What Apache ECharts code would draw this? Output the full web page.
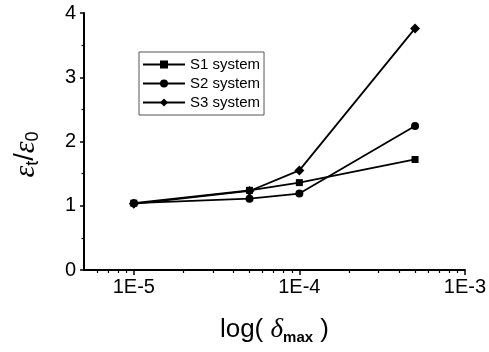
<!DOCTYPE html>
<html><head><meta charset="utf-8">
<script src="https://cdn.jsdelivr.net/npm/echarts@6/dist/echarts.min.js"></script>
<style>html,body{margin:0;padding:0;background:#fff}#c{width:489px;height:352px}</style>
</head><body><div id="c"></div>
<script>
const xValues = [1e-5, 5e-5, 1e-4, 5e-4];
const s1 = [1.04, 1.24, 1.36, 1.72];
const s2 = [1.04, 1.11, 1.19, 2.24];
const s3 = [1.03, 1.23, 1.55, 3.76];
const seriesNames = ['S1 system', 'S2 system', 'S3 system'];
const seriesSymbols = ['rect', 'circle', 'diamond'];
const xMajorTicks = [1e-5, 1e-4, 1e-3];
const xMin = 5e-6, xMax = 1e-3;
const yMin = 0, yMax = 4, yStep = 1;

const xMinorTicks = [];
for (let d = -6; d <= -4; d++) {
  for (let m = 2; m <= 9; m++) {
    const v = m * Math.pow(10, d);
    if (v >= xMin * 0.999 && v <= xMax * 1.001) xMinorTicks.push(v);
  }
}

const font = 'Liberation Sans, Arial, sans-serif';
const serif = 'Liberation Serif, Times New Roman, serif';
const symSizes = [7, 8, 10];
const allData = [s1, s2, s3];

const chart = echarts.init(document.getElementById('c'), null, {renderer: 'canvas'});
const option = {
  backgroundColor: '#fff',
  animation: false,
  grid: {left: 84, right: 24, top: 13, bottom: 82},
  legend: {
    orient: 'vertical',
    left: 139, top: 52,
    padding: [5, 4, 5, 3],
    borderColor: '#555', borderWidth: 1,
    itemWidth: 42, itemHeight: 10, itemGap: 4,
    textStyle: {fontFamily: font, fontSize: 15, color: '#000'},
    data: seriesNames
  },
  xAxis: [{
    type: 'log', logBase: 10, min: xMin, max: xMax,
    splitLine: {show: false},
    axisLine: {lineStyle: {color: '#000', width: 2}},
    axisTick: {customValues: xMajorTicks, length: 5, lineStyle: {color: '#000', width: 1.5}},
    axisLabel: {
      customValues: xMajorTicks, margin: 7,
      fontFamily: font, fontSize: 20, color: '#000',
      formatter: v => '1E' + Math.round(Math.log10(v))
    },
    name: '{a|log( }{d|δ}{s|max}{a| )}',
    nameLocation: 'middle', nameGap: 44,
    nameTextStyle: {
      rich: {
        a: {fontFamily: font, fontSize: 26, color: '#000'},
        d: {fontFamily: serif, fontStyle: 'italic', fontSize: 27, color: '#000'},
        s: {fontFamily: font, fontWeight: 'bold', fontSize: 15, color: '#000', padding: [16, 0, 0, 0]}
      }
    }
  }, {
    type: 'log', logBase: 10, min: xMin, max: xMax, position: 'bottom',
    splitLine: {show: false},
    axisLine: {show: false},
    axisTick: {customValues: xMinorTicks, length: 3, lineStyle: {color: '#000', width: 1.2}},
    axisLabel: {show: false}
  }],
  yAxis: {
    type: 'value', min: yMin, max: yMax, interval: yStep,
    splitLine: {show: false},
    axisLine: {show: true, lineStyle: {color: '#000', width: 2}},
    axisTick: {show: true, length: 4, lineStyle: {color: '#000', width: 1.5}},
    minorTick: {show: true, splitNumber: 2, length: 2.5, lineStyle: {color: '#000', width: 1.2}},
    axisLabel: {margin: 8, fontFamily: font, fontSize: 20, color: '#000'},
    name: '{e|ε}{t|t}{sl|/}{e|ε}{z|0}',
    nameLocation: 'middle', nameGap: 42,
    nameTextStyle: {
      padding: [0, 26, 0, 0],
      rich: {
        e: {fontFamily: serif, fontStyle: 'italic', fontSize: 30, color: '#000'},
        t: {fontFamily: font, fontSize: 18, color: '#000', padding: [14, 0, 0, 0]},
        sl: {fontFamily: font, fontSize: 27, color: '#000'},
        z: {fontFamily: font, fontSize: 18, color: '#000', padding: [14, 0, 0, 0]}
      }
    }
  },
  series: seriesNames.map((n, i) => ({
    name: n, type: 'line', xAxisIndex: 0,
    data: xValues.map((x, j) => [x, allData[i][j]]),
    symbol: seriesSymbols[i], symbolSize: symSizes[i],
    lineStyle: {color: '#000', width: 1.8},
    itemStyle: {color: '#000'},
    z: 3 - i
  }))
};
chart.setOption(option);
</script></body></html>
